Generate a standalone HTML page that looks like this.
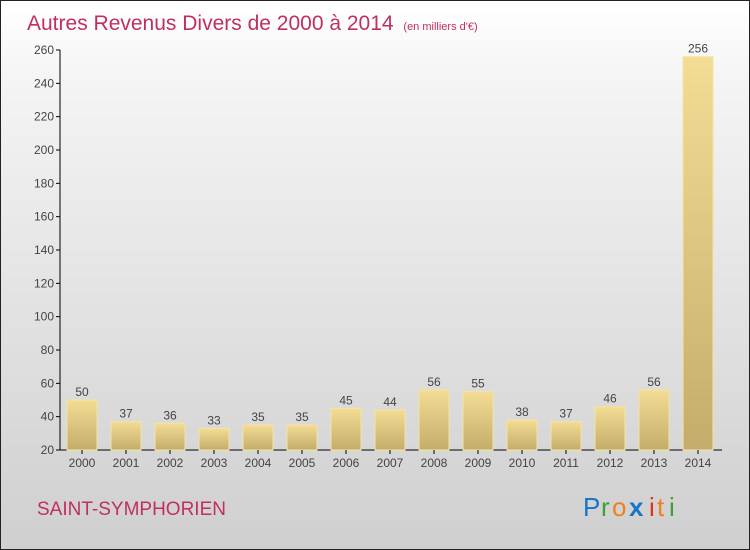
<!DOCTYPE html>
<html><head><meta charset="utf-8"><style>
body{margin:0}
#c{width:748px;height:548px;border:1px solid #222;background:linear-gradient(#fff,#f4f4f4 15%,#cfcfcf);position:relative;font-family:"Liberation Sans",sans-serif;overflow:hidden}
</style></head><body>
<div id="c">
<svg width="748" height="548" xmlns="http://www.w3.org/2000/svg" id="svg">
<defs><linearGradient id="bg" x1="0" y1="0" x2="0" y2="1"><stop offset="0" stop-color="#f3dc94"/><stop offset="1" stop-color="#c4ad6c"/></linearGradient></defs>
<text x="26" y="29" font-size="21" fill="#c0305f">Autres Revenus Divers de 2000 à 2014 <tspan font-size="11" dx="4">(en milliers d'€)</tspan></text>
<text x="36" y="514" font-size="19" fill="#c0305f">SAINT-SYMPHORIEN</text>
<g font-size="26">
<text x="582" y="515" fill="#1a74c8">P</text><text x="600" y="515" fill="#3aa03a">r</text><text x="611" y="515" fill="#f08020">o</text><text x="628" y="515" fill="#1a74c8" font-weight="bold">x</text><text x="648" y="515" fill="#e03020">i</text><text x="656" y="515" fill="#f08020">t</text><text x="668" y="515" fill="#3aa03a">i</text></g>
<g id="plot"></g>
</svg>
</div>
<script>
const years=["2000","2001","2002","2003","2004","2005","2006","2007","2008","2009","2010","2011","2012","2013","2014"];
const values=[50,37,36,33,35,35,45,44,56,55,38,37,46,56,256];
const ticks=[20,40,60,80,100,120,140,160,180,200,220,240,260];
const NS="http://www.w3.org/2000/svg";
const g=document.getElementById('plot');
const y=v=>449-(v-20)*400/240;
const x=i=>81+i*44;
function mk(t,a){const e=document.createElementNS(NS,t);for(const k in a)e.setAttribute(k,a[k]);g.appendChild(e);return e;}
const ax=mk('line',{x1:59,y1:y(260),x2:59,y2:449,stroke:'#000'});


const bx=mk('line',{x1:59,y1:449,x2:721,y2:449,stroke:'#000'});


ticks.forEach(t=>{
 mk('line',{x1:55,x2:59,y1:y(t),y2:y(t),stroke:'#000'});
 const l=mk('text',{x:53,y:y(t)+4,'font-size':12,fill:'#444','text-anchor':'end'});l.textContent=t;
 
 
});
years.forEach((yr,i)=>{
 const v=values[i];
 const r=mk('rect',{x:x(i)-15,y:y(v),width:30,height:449-y(v),fill:'url(#bg)',stroke:'#f5e49f','stroke-width':1});
 
 
 mk('line',{x1:x(i),x2:x(i),y1:449,y2:453,stroke:'#000'});
 const t=mk('text',{x:x(i),y:466,'font-size':12,fill:'#444','text-anchor':'middle'});t.textContent=yr;
 
 
 const vl=mk('text',{x:x(i),y:y(v)-4,'font-size':12,fill:'#444','text-anchor':'middle'});vl.textContent=v;
 
 
});
</script>
</body></html>
